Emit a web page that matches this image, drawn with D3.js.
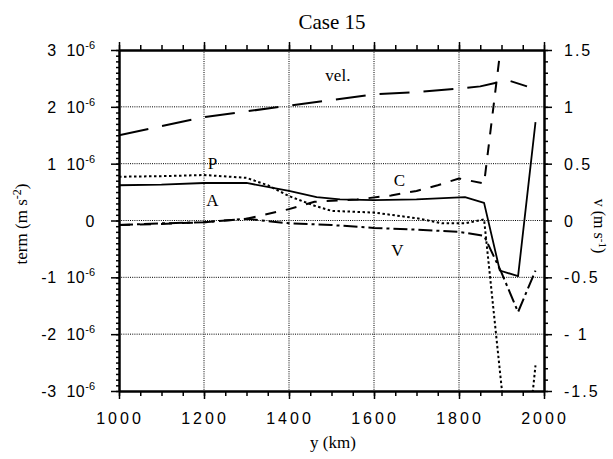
<!DOCTYPE html>
<html>
<head>
<meta charset="utf-8">
<script src="https://cdn.jsdelivr.net/npm/d3@7"></script>
<style>
  html, body { margin: 0; padding: 0; background: #fff; }
  svg { display: block; }
</style>
</head>
<body>
<svg id="chart" width="613" height="459"></svg>
<script>
// Cross-shore distance (km) at which each term is sampled
const velY  = [1000, 1200, 1400, 1600, 1700, 1800, 1850, 1885, 1918, 1960];
const velV  = [0.75, 0.91, 1.01, 1.11, 1.13, 1.16, 1.18, 1.21, 1.23, 1.18];   // m s-1 (right axis)

const cY = [1000, 1100, 1200, 1300, 1400, 1460, 1560, 1640, 1700, 1750, 1800, 1859, 1899];
const cT = [-0.08, -0.06, -0.03, 0.03, 0.2, 0.33, 0.37, 0.44, 0.52, 0.62, 0.74, 0.65, 3.1]; // 1e-6 m s-2

const pY = [1000, 1100, 1200, 1300, 1350, 1400, 1460, 1500, 1600, 1700, 1760, 1815, 1859, 1899, 1939, 1980];
const pT = [0.77, 0.78, 0.8, 0.75, 0.62, 0.43, 0.26, 0.17, 0.14, 0.04, -0.05, -0.05, 0.02, -2.85, -5.5, -2.55];

const aY = [1000, 1100, 1200, 1300, 1400, 1465, 1520, 1600, 1700, 1814, 1859, 1896, 1939, 1980];
const aT = [0.62, 0.63, 0.66, 0.66, 0.52, 0.41, 0.37, 0.36, 0.37, 0.41, 0.31, -0.88, -0.98, 1.73];

const vY = [1000, 1100, 1200, 1300, 1400, 1500, 1600, 1700, 1800, 1859, 1899, 1939, 1980];
const vT = [-0.08, -0.05, -0.03, 0.03, -0.05, -0.08, -0.13, -0.16, -0.2, -0.27, -0.9, -1.61, -0.88];

// Axis ticks
const xMajor = [1000, 1200, 1400, 1600, 1800, 2000];
const xTickLabels = ["1000", "1200", "1400", "1600", "1800", "2000"];
const leftMajor = [3, 2, 1, 0, -1, -2, -3];
const leftLabels = ["3", "2", "1", "0", "-1", "-2", "-3"];
const rightMajor = [1.5, 1, 0.5, 0, -0.5, -1, -1.5];
const rightLabels = ["1.5", "1", "0.5", "0", "-0.5", "- 1", "-1.5"];

// Curve labels
const curveLabels = [
  { text: "vel.", y: 1515, t: 2.45 },
  { text: "P",    y: 1220, t: 0.9 },
  { text: "A",    y: 1220, t: 0.26 },
  { text: "C",    y: 1660, t: 0.6 },
  { text: "V",    y: 1655, t: -0.62 }
];

const svg = d3.select("#chart");
const L = 119, R = 544, T = 50, B = 391;

const x = d3.scaleLinear().domain([1000, 2000]).range([L, R]);
const yL = d3.scaleLinear().domain([-3, 3]).range([B, T]);
const yR = d3.scaleLinear().domain([-1.5, 1.5]).range([B, T]);

const sans = "'Liberation Sans', Arial, Helvetica, sans-serif";
const serif = "'Liberation Serif', 'Times New Roman', Times, serif";

// Dotted grid
const grid = svg.append("g").attr("stroke", "#000").attr("stroke-width", 1)
  .attr("stroke-dasharray", "1,1.2");
[1200, 1400, 1600, 1800].forEach(v => {
  grid.append("line").attr("x1", x(v)).attr("x2", x(v)).attr("y1", T).attr("y2", B);
});
[2, 1, 0, -1, -2].forEach(v => {
  grid.append("line").attr("x1", L).attr("x2", R).attr("y1", yL(v)).attr("y2", yL(v));
});

// Axes (ticks drawn outward on every side)
const axisStyle = g => {
  g.select(".domain").attr("stroke-width", 2);
  g.selectAll(".tick line").attr("stroke-width", 1.5);
  g.selectAll("text").remove();
};
const minorX = d3.range(1000, 2001, 50);
const minorL = d3.range(-30, 31).map(d => d / 10);
const minorR = d3.range(-15, 16).map(d => d / 10);

svg.append("g").attr("transform", `translate(0,${B})`)
  .call(d3.axisBottom(x).tickValues(minorX).tickSize(5).tickSizeOuter(0)).call(axisStyle);
svg.append("g").attr("transform", `translate(0,${B})`)
  .call(d3.axisBottom(x).tickValues(xMajor).tickSize(8).tickSizeOuter(0)).call(axisStyle);
svg.append("g").attr("transform", `translate(0,${T})`)
  .call(d3.axisTop(x).tickValues(minorX).tickSize(5).tickSizeOuter(0)).call(axisStyle);
svg.append("g").attr("transform", `translate(0,${T})`)
  .call(d3.axisTop(x).tickValues(xMajor).tickSize(8).tickSizeOuter(0)).call(axisStyle);
svg.append("g").attr("transform", `translate(${L},0)`)
  .call(d3.axisLeft(yL).tickValues(minorL).tickSize(3).tickSizeOuter(0)).call(axisStyle);
svg.append("g").attr("transform", `translate(${L},0)`)
  .call(d3.axisLeft(yL).tickValues(leftMajor).tickSize(8).tickSizeOuter(0)).call(axisStyle);
svg.append("g").attr("transform", `translate(${R},0)`)
  .call(d3.axisRight(yR).tickValues(minorR).tickSize(4).tickSizeOuter(0)).call(axisStyle);
svg.append("g").attr("transform", `translate(${R},0)`)
  .call(d3.axisRight(yR).tickValues(rightMajor).tickSize(8).tickSizeOuter(0)).call(axisStyle);

// Tick labels
svg.append("g").selectAll("text").data(xMajor).join("text")
  .attr("x", d => x(d) + 1).attr("y", 424)
  .attr("text-anchor", "middle").attr("font-family", sans).attr("font-size", 16)
  .attr("letter-spacing", 3)
  .text((d, i) => xTickLabels[i]);

const lt = svg.append("g").selectAll("text").data(leftMajor).join("text")
  .attr("x", 95).attr("y", d => yL(d) + 6)
  .attr("text-anchor", "end").attr("font-family", sans).attr("font-size", 16)
  .attr("letter-spacing", 0.5).attr("xml:space", "preserve");
lt.each(function (d, i) {
  const t = d3.select(this);
  if (d === 0) { t.text("0"); return; }
  t.append("tspan").text(leftLabels[i] + "  10");
  t.append("tspan").attr("dy", -7).attr("font-size", 11).attr("letter-spacing", 0).text("-6");
});

svg.append("g").selectAll("text").data(rightMajor).join("text")
  .attr("x", 564).attr("y", d => yR(d) + 6)
  .attr("font-family", sans).attr("font-size", 16).attr("letter-spacing", 2)
  .attr("xml:space", "preserve")
  .text((d, i) => rightLabels[i]);

// Titles
svg.append("text").attr("x", 332).attr("y", 29).attr("text-anchor", "middle")
  .attr("font-family", serif).attr("font-size", 21).text("Case 15");
svg.append("text").attr("x", 333).attr("y", 448).attr("text-anchor", "middle")
  .attr("font-family", serif).attr("font-size", 17).text("y (km)");

const ylab = svg.append("text").attr("transform", `translate(27,224) rotate(-90)`)
  .attr("text-anchor", "middle").attr("font-family", serif).attr("font-size", 17);
ylab.append("tspan").text("term (m s");
ylab.append("tspan").attr("dy", -6).attr("font-size", 12).text("-2");
ylab.append("tspan").attr("dy", 6).text(")");

const vlab = svg.append("text").attr("transform", `translate(594,226) rotate(90)`)
  .attr("text-anchor", "middle").attr("font-family", serif).attr("font-size", 16);
vlab.append("tspan").text("v (m s");
vlab.append("tspan").attr("dy", -5).attr("font-size", 11).text("-1");
vlab.append("tspan").attr("dy", 5).text(")");

// Curves, clipped to the plot frame
svg.append("clipPath").attr("id", "plot").append("rect")
  .attr("x", L).attr("y", T).attr("width", R - L).attr("height", B - T);
const curves = svg.append("g").attr("clip-path", "url(#plot)")
  .attr("fill", "none").attr("stroke", "#000").attr("stroke-linejoin", "round");

const lineL = d3.line().x(d => x(d[0])).y(d => yL(d[1]));
const lineR = d3.line().x(d => x(d[0])).y(d => yR(d[1]));
const zip = (a, b) => a.map((v, i) => [v, b[i]]);

curves.append("path").attr("d", lineR(zip(velY, velV)))
  .attr("stroke-width", 2).attr("stroke-dasharray", "30,14");
curves.append("path").attr("d", lineL(zip(cY, cT)))
  .attr("stroke-width", 2).attr("stroke-dasharray", "11,10");
curves.append("path").attr("d", lineL(zip(pY, pT)))
  .attr("stroke-width", 2).attr("stroke-dasharray", "2.5,2.5");
curves.append("path").attr("d", lineL(zip(aY, aT)))
  .attr("stroke-width", 1.8);
curves.append("path").attr("d", lineL(zip(vY, vT)))
  .attr("stroke-width", 2).attr("stroke-dasharray", "14,4,3,4");

svg.append("g").selectAll("text").data(curveLabels).join("text")
  .attr("x", d => x(d.y)).attr("y", d => yL(d.t))
  .attr("text-anchor", "middle").attr("font-family", serif).attr("font-size", 17)
  .text(d => d.text);
</script>
</body>
</html>
